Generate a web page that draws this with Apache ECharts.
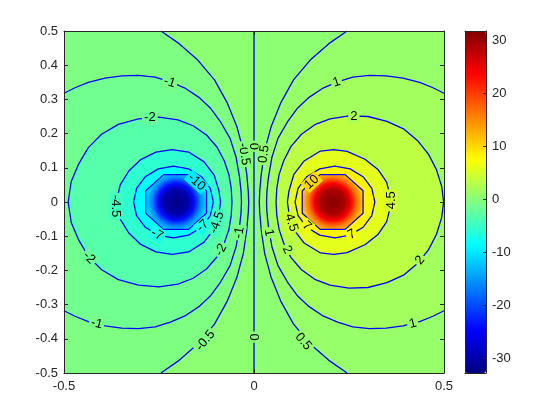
<!DOCTYPE html>
<html>
<head>
<meta charset="utf-8">
<script src="https://cdn.jsdelivr.net/npm/echarts@6/dist/echarts.min.js"></script>
<style>
  html, body { margin: 0; padding: 0; background: #fff; }
  #chart { width: 560px; height: 420px; }
</style>
</head>
<body>
<div id="chart"></div>
<script>
// colour bar range
const cMin = -32.8;
const cMax = 31.7;

// contour lines (data coordinates)
const cZero = [[0, -0.5], [0, 0.5]];

const cNeg0p5 = [[-0.245, 0.5], [-0.197, 0.463], [-0.148, 0.415], [-0.104, 0.357], [-0.07, 0.289], [-0.045, 0.22], [-0.028, 0.15], [-0.019, 0.08], [-0.015, 0.03], [-0.014, 0],
  [-0.015, -0.03], [-0.019, -0.08], [-0.028, -0.15], [-0.045, -0.22], [-0.07, -0.289], [-0.104, -0.357], [-0.148, -0.415], [-0.197, -0.463], [-0.245, -0.5]];
const cPos0p5 = [[0.245, 0.5], [0.197, 0.463], [0.148, 0.415], [0.104, 0.357], [0.07, 0.289], [0.045, 0.22], [0.028, 0.15], [0.019, 0.08], [0.015, 0.03], [0.014, 0],
  [0.015, -0.03], [0.019, -0.08], [0.028, -0.15], [0.045, -0.22], [0.07, -0.289], [0.104, -0.357], [0.148, -0.415], [0.197, -0.463], [0.245, -0.5]];

const cNeg1 = [[-0.5, 0.318], [-0.471, 0.334], [-0.436, 0.35], [-0.392, 0.362], [-0.348, 0.369], [-0.304, 0.37], [-0.26, 0.365], [-0.22, 0.351], [-0.18, 0.332], [-0.145, 0.306], [-0.115, 0.275], [-0.088, 0.234], [-0.063, 0.186], [-0.047, 0.13], [-0.038, 0.072], [-0.034, 0.03], [-0.033, 0],
  [-0.034, -0.03], [-0.038, -0.072], [-0.047, -0.13], [-0.063, -0.186], [-0.088, -0.234], [-0.115, -0.275], [-0.145, -0.306], [-0.18, -0.332], [-0.22, -0.351], [-0.26, -0.365], [-0.304, -0.37], [-0.348, -0.369], [-0.392, -0.362], [-0.436, -0.35], [-0.471, -0.334], [-0.5, -0.318]];
const cPos1 = [[0.5, 0.318], [0.471, 0.334], [0.436, 0.35], [0.392, 0.362], [0.348, 0.369], [0.304, 0.37], [0.26, 0.365], [0.22, 0.351], [0.18, 0.332], [0.145, 0.306], [0.115, 0.275], [0.088, 0.234], [0.063, 0.186], [0.047, 0.13], [0.038, 0.072], [0.034, 0.03], [0.033, 0],
  [0.034, -0.03], [0.038, -0.072], [0.047, -0.13], [0.063, -0.186], [0.088, -0.234], [0.115, -0.275], [0.145, -0.306], [0.18, -0.332], [0.22, -0.351], [0.26, -0.365], [0.304, -0.37], [0.348, -0.369], [0.392, -0.362], [0.436, -0.35], [0.471, -0.334], [0.5, -0.318]];

const cNeg2 = [[-0.058, 0], [-0.06, 0.04], [-0.066, 0.08], [-0.078, 0.12], [-0.097, 0.16], [-0.125, 0.196], [-0.16, 0.223], [-0.2, 0.24], [-0.25, 0.248], [-0.304, 0.243], [-0.357, 0.227], [-0.401, 0.198], [-0.436, 0.159], [-0.462, 0.11], [-0.481, 0.06], [-0.489, 0],
  [-0.481, -0.06], [-0.462, -0.11], [-0.436, -0.159], [-0.401, -0.198], [-0.357, -0.227], [-0.304, -0.243], [-0.25, -0.248], [-0.2, -0.24], [-0.16, -0.223], [-0.125, -0.196], [-0.097, -0.16], [-0.078, -0.12], [-0.066, -0.08], [-0.06, -0.04], [-0.058, 0]];
const cPos2 = [[0.058, 0], [0.06, 0.04], [0.066, 0.08], [0.078, 0.12], [0.097, 0.162], [0.125, 0.198], [0.16, 0.226], [0.2, 0.243], [0.25, 0.252], [0.3, 0.25], [0.35, 0.236], [0.395, 0.213], [0.43, 0.18], [0.459, 0.14], [0.48, 0.095], [0.494, 0.045], [0.499, 0],
  [0.494, -0.045], [0.48, -0.095], [0.459, -0.14], [0.43, -0.18], [0.395, -0.213], [0.35, -0.236], [0.3, -0.25], [0.25, -0.252], [0.2, -0.243], [0.16, -0.226], [0.125, -0.198], [0.097, -0.162], [0.078, -0.12], [0.066, -0.08], [0.06, -0.04], [0.058, 0]];

const cNeg4p5 = [[-0.088, 0], [-0.092, 0.032], [-0.105, 0.079], [-0.132, 0.118], [-0.172, 0.146], [-0.215, 0.153], [-0.258, 0.146], [-0.298, 0.124], [-0.33, 0.09], [-0.352, 0.05], [-0.363, 0],
  [-0.352, -0.05], [-0.33, -0.09], [-0.298, -0.124], [-0.258, -0.146], [-0.215, -0.153], [-0.172, -0.146], [-0.132, -0.118], [-0.105, -0.079], [-0.092, -0.032], [-0.088, 0]];
const cPos4p5 = [[0.088, 0], [0.092, 0.032], [0.105, 0.081], [0.132, 0.12], [0.175, 0.149], [0.21, 0.153], [0.245, 0.148], [0.292, 0.125], [0.327, 0.094], [0.349, 0.058], [0.362, 0],
  [0.349, -0.058], [0.327, -0.094], [0.292, -0.125], [0.245, -0.148], [0.21, -0.153], [0.175, -0.149], [0.132, -0.12], [0.105, -0.081], [0.092, -0.032], [0.088, 0]];

const cNeg7 = [[-0.107, 0], [-0.115, 0.04], [-0.138, 0.074], [-0.172, 0.097], [-0.212, 0.105], [-0.252, 0.097], [-0.286, 0.074], [-0.309, 0.04], [-0.317, 0],
  [-0.309, -0.04], [-0.286, -0.074], [-0.252, -0.097], [-0.212, -0.105], [-0.172, -0.097], [-0.138, -0.074], [-0.115, -0.04], [-0.107, 0]];
const cPos7 = [[0.108, 0], [0.116, 0.04], [0.139, 0.074], [0.173, 0.097], [0.213, 0.105], [0.253, 0.097], [0.287, 0.074], [0.31, 0.04], [0.318, 0],
  [0.31, -0.04], [0.287, -0.074], [0.253, -0.097], [0.213, -0.105], [0.173, -0.097], [0.139, -0.074], [0.116, -0.04], [0.108, 0]];

const cNeg10 = [[-0.125, 0.033], [-0.172, 0.08], [-0.238, 0.08], [-0.285, 0.033], [-0.285, -0.033], [-0.238, -0.08], [-0.172, -0.08], [-0.125, -0.033], [-0.125, 0.033]];
const cPos10 = [[0.127, 0.033], [0.174, 0.08], [0.24, 0.08], [0.287, 0.033], [0.287, -0.033], [0.24, -0.08], [0.174, -0.08], [0.127, -0.033], [0.127, 0.033]];

// label text, x, y, angle (deg)
const contourLabels = [
  ['-1', -0.222, 0.35, -18], ['-1', -0.414, -0.356, -14], ['-1', -0.039, -0.09, 80],
  ['-2', -0.274, 0.246, 0], ['-2', -0.434, -0.163, -45], ['-2', -0.087, -0.14, 62],
  ['-0.5', -0.026, 0.14, -82], ['-0.5', -0.128, -0.405, 50],
  ['0', 0, 0.163, -90], ['0', 0, -0.395, -90],
  ['-4.5', -0.363, -0.012, -90], ['-4.5', -0.098, -0.06, 71],
  ['-7', -0.255, -0.095, -28], ['-7', -0.135, -0.07, 42],
  ['-10', -0.151, 0.058, -42],
  ['1', 0.217, 0.35, 18], ['1', 0.418, -0.356, 14], ['1', 0.039, -0.09, -80],
  ['2', 0.263, 0.25, 0], ['2', 0.437, -0.17, 51], ['2', 0.087, -0.14, -62],
  ['0.5', 0.026, 0.14, 82], ['0.5', 0.13, -0.408, -50],
  ['4.5', 0.362, 0.005, 90], ['4.5', 0.098, -0.06, -71],
  ['7', 0.139, -0.07, -42], ['7', 0.257, -0.095, 28],
  ['10', 0.152, 0.058, 42]
];

const jet = ['#000080', '#0000ff', '#0080ff', '#00ffff', '#80ff80', '#ffff00', '#ff8000', '#ff0000', '#800000'];
function jetColor(v) {
  return echarts.color.lerp((v - cMin) / (cMax - cMin), jet);
}

const box = [[-0.5, -0.5], [0.5, -0.5], [0.5, 0.5], [-0.5, 0.5]];
// shaded bands, outer first
const fills = [
  { pts: box, v: 0.3 },
  { pts: cNeg0p5.concat([[-0.5, -0.5], [-0.5, 0.5]]), v: -0.6 },
  { pts: cPos0p5.concat([[0.5, -0.5], [0.5, 0.5]]), v: 0.9 },
  { pts: cNeg1, v: -1.5 }, { pts: cPos1, v: 1.6 },
  { pts: cNeg2, v: -3.2 }, { pts: cPos2, v: 3.3 },
  { pts: cNeg4p5, v: -5.7 }, { pts: cPos4p5, v: 5.8 },
  { pts: cNeg7, v: -8.6 }, { pts: cPos7, v: 8.2 },
  { pts: cNeg10, core: [[0, -32.5], [0.4, -30], [0.6, -24], [0.8, -16], [1, -10.5]] },
  { pts: cPos10, core: [[0, 31.4], [0.4, 29], [0.6, 24], [0.8, 16], [1, 10.5]] }
];

const contours = [cNeg10, cNeg7, cNeg4p5, cNeg2, cNeg1, cNeg0p5, cZero, cPos0p5, cPos1, cPos2, cPos4p5, cPos7, cPos10];

const font = '"Liberation Sans", Arial, sans-serif';
const axisColor = '#262626';

const chart = echarts.init(document.getElementById('chart'));

const lineSeries = contours.map(c => ({
  type: 'line',
  data: c,
  symbol: 'none',
  lineStyle: { color: '#0000ff', width: 1.3 },
  z: 3,
  silent: true,
  animation: false
}));

chart.setOption({
  backgroundColor: '#fff',
  animation: false,
  grid: [
    { left: 64, top: 31, width: 380, height: 342 },
    { left: 465, top: 31, width: 21, height: 342 }
  ],
  xAxis: [
    {
      gridIndex: 0, type: 'value', min: -0.5, max: 0.5, interval: 0.5, position: 'bottom',
      axisLine: { onZero: false, lineStyle: { color: axisColor } },
      axisTick: { inside: true, length: 4, lineStyle: { color: axisColor } },
      axisLabel: { color: axisColor, fontSize: 13, fontFamily: font, margin: 7 },
      splitLine: { show: false }, z: 5
    },
    {
      gridIndex: 0, type: 'value', min: -0.5, max: 0.5, interval: 0.5, position: 'top',
      axisLine: { onZero: false, lineStyle: { color: axisColor } },
      axisTick: { inside: true, length: 4, lineStyle: { color: axisColor } },
      axisLabel: { show: false }, splitLine: { show: false }, z: 5
    },
    {
      gridIndex: 1, type: 'value', min: 0, max: 1, position: 'bottom',
      axisLine: { onZero: false, lineStyle: { color: axisColor } },
      axisTick: { show: false }, axisLabel: { show: false }, splitLine: { show: false }, z: 5
    },
    {
      gridIndex: 1, type: 'value', min: 0, max: 1, position: 'top',
      axisLine: { onZero: false, lineStyle: { color: axisColor } },
      axisTick: { show: false }, axisLabel: { show: false }, splitLine: { show: false }, z: 5
    }
  ],
  yAxis: [
    {
      gridIndex: 0, type: 'value', min: -0.5, max: 0.5, interval: 0.1, position: 'left',
      axisLine: { show: true, onZero: false, lineStyle: { color: axisColor } },
      axisTick: { show: true, inside: true, length: 4, lineStyle: { color: axisColor } },
      axisLabel: { color: axisColor, fontSize: 13, fontFamily: font, margin: 6 },
      splitLine: { show: false }, z: 5
    },
    {
      gridIndex: 0, type: 'value', min: -0.5, max: 0.5, interval: 0.1, position: 'right',
      axisLine: { show: true, onZero: false, lineStyle: { color: axisColor } },
      axisTick: { show: true, inside: true, length: 4, lineStyle: { color: axisColor } },
      axisLabel: { show: false }, splitLine: { show: false }, z: 5
    },
    {
      gridIndex: 1, type: 'value', min: cMin, max: cMax, position: 'right',
      minInterval: 10, maxInterval: 10,
      axisLine: { show: true, onZero: false, lineStyle: { color: axisColor } },
      axisTick: { show: true, inside: true, length: 3, lineStyle: { color: axisColor } },
      axisLabel: {
        color: axisColor, fontSize: 13, fontFamily: font, margin: 6,
        formatter: v => (Math.abs(v % 10) < 1e-6 ? String(Math.round(v)) : '')
      },
      splitLine: { show: false }, z: 5
    },
    {
      gridIndex: 1, type: 'value', min: cMin, max: cMax, position: 'left',
      axisLine: { show: true, onZero: false, lineStyle: { color: axisColor } },
      axisTick: { show: false }, axisLabel: { show: false }, splitLine: { show: false }, z: 5
    }
  ],
  visualMap: {
    type: 'continuous',
    min: cMin, max: cMax,
    seriesIndex: [],
    calculable: false,
    hoverLink: false,
    orient: 'vertical',
    left: 465, top: 31,
    itemWidth: 21, itemHeight: 342,
    padding: 0,
    inRange: { color: jet },
    z: 1
  },
  series: [
    {
      type: 'custom',
      name: 'bands',
      silent: true,
      clip: true,
      z: 1,
      data: fills.map(() => [0, 0]),
      renderItem: (params, api) => {
        const f = fills[params.dataIndex];
        const points = f.pts.map(p => api.coord(p));
        let fill;
        if (f.core) {
          fill = new echarts.graphic.RadialGradient(0.5, 0.5, 0.56,
            f.core.map(s => ({ offset: s[0], color: jetColor(s[1]) })));
        } else {
          fill = jetColor(f.v);
        }
        return { type: 'polygon', shape: { points }, style: { fill, stroke: null } };
      }
    },
    ...lineSeries,
    {
      type: 'custom',
      name: 'labels',
      silent: true,
      z: 6,
      data: contourLabels.map(l => [l[1], l[2]]),
      renderItem: (params, api) => {
        const l = contourLabels[params.dataIndex];
        const p = api.coord([l[1], l[2]]);
        return {
          type: 'text',
          x: p[0], y: p[1],
          rotation: l[3] * Math.PI / 180,
          style: {
            text: l[0],
            fill: '#000',
            font: '13px ' + font,
            align: 'center',
            verticalAlign: 'middle',
            backgroundColor: jetColor(Number(l[0])),
            padding: [0, 2]
          }
        };
      }
    }
  ]
});
</script>
</body>
</html>
